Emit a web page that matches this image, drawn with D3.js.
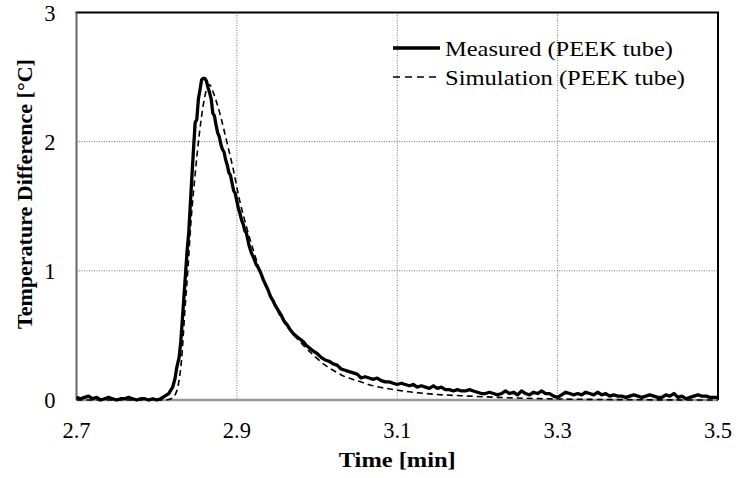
<!DOCTYPE html>
<html>
<head>
<meta charset="utf-8">
<script src="https://cdn.jsdelivr.net/npm/d3@7"></script>
<style>
  body { margin: 0; background: #fff; }
  text { font-family: "Liberation Serif", "Times New Roman", serif; }
</style>
</head>
<body>
<div id="chart"></div>
<script>
const width = 737;
const height = 478;
const margin = { top: 12.5, right: 19, bottom: 78, left: 76.5 };

const xTicks = [2.7, 2.9, 3.1, 3.3, 3.5];
const yTicks = [0, 1, 2, 3];

// measured temperature difference (PEEK tube)
const measTime = [
  2.700, 2.705, 2.710, 2.715, 2.720, 2.725, 2.730, 2.735, 2.740, 2.745,
  2.750, 2.755, 2.760, 2.765, 2.770, 2.775, 2.780, 2.785, 2.790, 2.795,
  2.800, 2.805, 2.810, 2.815, 2.818, 2.820, 2.823, 2.825, 2.828, 2.830,
  2.832, 2.834, 2.836, 2.838, 2.840, 2.842, 2.844, 2.846, 2.848, 2.850,
  2.852, 2.854, 2.856, 2.858, 2.860, 2.862, 2.864, 2.866, 2.868, 2.870,
  2.872, 2.874, 2.876, 2.878, 2.880, 2.882, 2.884, 2.886, 2.888, 2.890,
  2.892, 2.894, 2.896, 2.898, 2.900, 2.902, 2.904, 2.906, 2.908, 2.910,
  2.912, 2.915, 2.918, 2.921, 2.924, 2.927, 2.930, 2.933, 2.936, 2.939,
  2.942, 2.945, 2.948, 2.951, 2.955, 2.959, 2.963, 2.967, 2.971, 2.975,
  2.979, 2.983, 2.987, 2.991, 2.995, 3.000, 3.005, 3.010, 3.015, 3.020,
  3.025, 3.030, 3.035, 3.040, 3.045, 3.050, 3.055, 3.060, 3.065, 3.070,
  3.075, 3.080, 3.085, 3.090, 3.095, 3.100, 3.105, 3.110, 3.115, 3.120,
  3.125, 3.130, 3.135, 3.140, 3.145, 3.150, 3.155, 3.160, 3.165, 3.170,
  3.175, 3.180, 3.185, 3.190, 3.195, 3.200, 3.205, 3.210, 3.215, 3.220,
  3.225, 3.230, 3.235, 3.240, 3.245, 3.250, 3.255, 3.260, 3.265, 3.270,
  3.275, 3.280, 3.285, 3.290, 3.295, 3.300, 3.305, 3.310, 3.315, 3.320,
  3.325, 3.330, 3.335, 3.340, 3.345, 3.350, 3.355, 3.360, 3.365, 3.370,
  3.375, 3.380, 3.385, 3.390, 3.395, 3.400, 3.405, 3.410, 3.415, 3.420,
  3.425, 3.430, 3.435, 3.440, 3.445, 3.450, 3.455, 3.460, 3.465, 3.470,
  3.475, 3.480, 3.485, 3.490, 3.495, 3.500
];
const measValue = [
  0.02, 0.01, 0.02, 0.03, 0.01, 0.02, 0.00, 0.01, 0.02, 0.01,
  0.00, 0.01, 0.01, 0.02, 0.01, 0.00, 0.01, 0.01, 0.00, 0.01,
  0.00, 0.01, 0.03, 0.05, 0.08, 0.10, 0.17, 0.25, 0.33, 0.45,
  0.62, 0.80, 0.98, 1.16, 1.30, 1.52, 1.74, 1.95, 2.15, 2.17,
  2.33, 2.40, 2.48, 2.49, 2.49, 2.47, 2.42, 2.38, 2.33, 2.22,
  2.20, 2.13, 2.07, 2.04, 1.98, 1.94, 1.92, 1.86, 1.82, 1.76,
  1.74, 1.68, 1.62, 1.60, 1.54, 1.48, 1.44, 1.39, 1.36, 1.31,
  1.29, 1.20, 1.14, 1.10, 1.05, 1.02, 0.98, 0.93, 0.89, 0.85,
  0.80, 0.77, 0.73, 0.70, 0.66, 0.61, 0.58, 0.54, 0.51, 0.49,
  0.47, 0.45, 0.42, 0.40, 0.38, 0.36, 0.33, 0.31, 0.30, 0.28,
  0.27, 0.24, 0.23, 0.22, 0.21, 0.20, 0.17, 0.18, 0.17, 0.16,
  0.17, 0.15, 0.14, 0.14, 0.13, 0.12, 0.13, 0.12, 0.11, 0.12,
  0.10, 0.11, 0.10, 0.09, 0.11, 0.09, 0.10, 0.08, 0.08, 0.07,
  0.08, 0.07, 0.07, 0.08, 0.07, 0.06, 0.05, 0.05, 0.06, 0.05,
  0.04, 0.05, 0.07, 0.05, 0.06, 0.04, 0.07, 0.05, 0.04, 0.06,
  0.05, 0.07, 0.05, 0.05, 0.03, 0.02, 0.04, 0.06, 0.05, 0.04,
  0.05, 0.04, 0.06, 0.05, 0.04, 0.06, 0.04, 0.05, 0.03, 0.04,
  0.03, 0.03, 0.02, 0.03, 0.04, 0.03, 0.02, 0.03, 0.04, 0.03,
  0.02, 0.02, 0.04, 0.03, 0.05, 0.02, 0.03, 0.01, 0.02, 0.03,
  0.04, 0.03, 0.03, 0.02, 0.02, 0.02
];

// simulated temperature difference (PEEK tube)
const simTime = [
  2.700, 2.810, 2.818, 2.823, 2.827, 2.831, 2.835, 2.839, 2.843, 2.848,
  2.853, 2.858, 2.862, 2.866, 2.870, 2.875, 2.880, 2.887, 2.895, 2.904,
  2.912, 2.923, 2.933, 2.944, 2.954, 2.966, 2.979, 2.995, 3.010, 3.020,
  3.035, 3.050, 3.070, 3.091, 3.120, 3.145, 3.190, 3.250, 3.300, 3.400,
  3.500
];
const simValue = [
  0.00, 0.00, 0.01, 0.04, 0.12, 0.31, 0.68, 1.02, 1.40, 1.75,
  2.05, 2.28, 2.40, 2.44, 2.39, 2.30, 2.19, 2.01, 1.80, 1.53,
  1.34, 1.11, 0.93, 0.78, 0.65, 0.54, 0.45, 0.35, 0.27, 0.23,
  0.18, 0.15, 0.11, 0.085, 0.06, 0.045, 0.03, 0.015, 0.008, 0.002,
  0.00
];

const measured = measTime.map((t, i) => ({ t: t, v: measValue[i] }));
const simulated = simTime.map((t, i) => ({ t: t, v: simValue[i] }));

const svg = d3.select("#chart")
  .append("svg")
  .attr("width", width)
  .attr("height", height);

const x = d3.scaleLinear()
  .domain([2.7, 3.5])
  .range([margin.left, width - margin.right]);

const y = d3.scaleLinear()
  .domain([0, 3])
  .range([height - margin.bottom, margin.top]);

// dotted grid
svg.append("g")
  .selectAll("line")
  .data(xTicks.slice(1, -1))
  .join("line")
  .attr("x1", d => x(d)).attr("x2", d => x(d))
  .attr("y1", y(3)).attr("y2", y(0))
  .attr("stroke", "#777")
  .attr("stroke-width", 1)
  .attr("stroke-dasharray", "1,1.5");

svg.append("g")
  .selectAll("line")
  .data(yTicks.slice(1, -1))
  .join("line")
  .attr("x1", x(2.7)).attr("x2", x(3.5))
  .attr("y1", d => y(d)).attr("y2", d => y(d))
  .attr("stroke", "#777")
  .attr("stroke-width", 1)
  .attr("stroke-dasharray", "1,1.5");

// frame
svg.append("line")
  .attr("x1", x(2.7) - 1).attr("x2", x(3.5) + 1)
  .attr("y1", y(3)).attr("y2", y(3))
  .attr("stroke", "#000").attr("stroke-width", 2);
svg.append("line")
  .attr("x1", x(3.5)).attr("x2", x(3.5))
  .attr("y1", y(3)).attr("y2", y(0))
  .attr("stroke", "#000").attr("stroke-width", 2);
svg.append("line")
  .attr("x1", x(2.7)).attr("x2", x(2.7))
  .attr("y1", y(3)).attr("y2", y(0))
  .attr("stroke", "#666").attr("stroke-width", 2);
svg.append("line")
  .attr("x1", x(2.7)).attr("x2", x(3.5))
  .attr("y1", y(0)).attr("y2", y(0))
  .attr("stroke", "#999").attr("stroke-width", 2.5);

// tick labels
svg.append("g")
  .selectAll("text")
  .data(xTicks)
  .join("text")
  .attr("x", d => x(d))
  .attr("y", y(0) + 37.5)
  .attr("text-anchor", "middle")
  .attr("font-size", 22.5)
  .text(d => d.toFixed(1));

svg.append("g")
  .selectAll("text")
  .data(yTicks)
  .join("text")
  .attr("x", x(2.7) - 21)
  .attr("y", d => y(d) + 8)
  .attr("text-anchor", "end")
  .attr("font-size", 22.5)
  .text(d => d);

// axis titles
svg.append("text")
  .attr("x", (x(2.7) + x(3.5)) / 2)
  .attr("y", 467)
  .attr("text-anchor", "middle")
  .attr("font-size", 22)
  .attr("font-weight", "bold")
  .attr("textLength", 117)
  .attr("lengthAdjust", "spacingAndGlyphs")
  .text("Time [min]");

svg.append("text")
  .attr("transform", "translate(32,194) rotate(-90)")
  .attr("text-anchor", "middle")
  .attr("font-size", 22)
  .attr("font-weight", "bold")
  .text("Temperature Difference [°C]");

// series
const line = d3.line()
  .x(d => x(d.t))
  .y(d => y(d.v));

svg.append("path")
  .datum(simulated)
  .attr("fill", "none")
  .attr("stroke", "#000")
  .attr("stroke-width", 1.6)
  .attr("stroke-dasharray", "6,4")
  .attr("d", line.curve(d3.curveMonotoneX));

svg.append("path")
  .datum(measured)
  .attr("fill", "none")
  .attr("stroke", "#000")
  .attr("stroke-width", 3.3)
  .attr("stroke-linejoin", "round")
  .attr("d", line.curve(d3.curveLinear));

// legend
const legend = svg.append("g");
const legendItems = [
  { label: "Measured (PEEK tube)", len: 228, width: 3.3, dash: null, y: 48 },
  { label: "Simulation (PEEK tube)", len: 240, width: 1.6, dash: "7,5", y: 77 }
];
legendItems.forEach(item => {
  legend.append("line")
    .attr("x1", 393).attr("x2", 440)
    .attr("y1", item.y).attr("y2", item.y)
    .attr("stroke", "#000")
    .attr("stroke-width", item.width)
    .attr("stroke-dasharray", item.dash);
  legend.append("text")
    .attr("x", 445)
    .attr("y", item.y + 8)
    .attr("font-size", 22)
    .attr("textLength", item.len)
    .attr("lengthAdjust", "spacingAndGlyphs")
    .text(item.label);
});
</script>
</body>
</html>
